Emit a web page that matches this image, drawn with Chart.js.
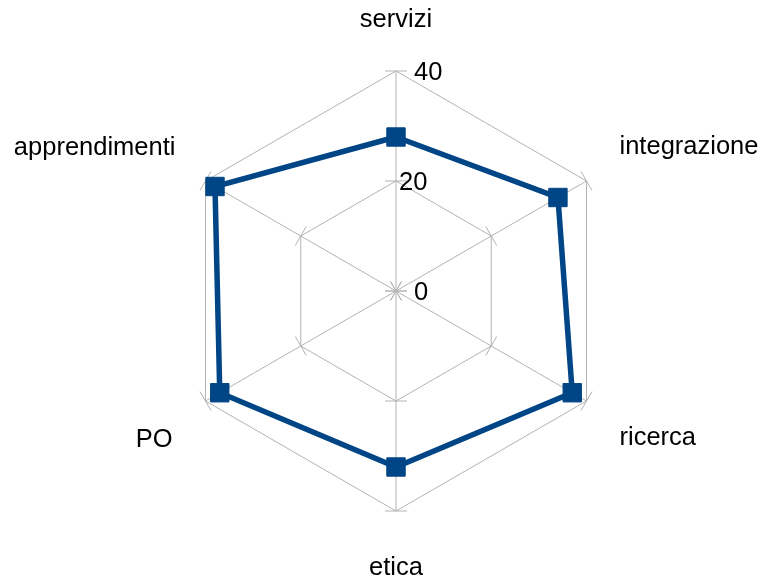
<!DOCTYPE html>
<html>
<head>
<meta charset="utf-8">
<script src="https://cdn.jsdelivr.net/npm/chart.js@4/dist/chart.umd.min.js"></script>
<style>
html,body{margin:0;padding:0;background:#fff;}
canvas{display:block;}
</style>
</head>
<body>
<canvas id="c" width="763" height="584"></canvas>
<script>
const categories = ['servizi', 'integrazione', 'ricerca', 'etica', 'PO', 'apprendimenti'];
const values = [28, 34, 37, 32, 37, 38];
const tickValues = [0, 20, 40];
const tickLabels = ['0', '20', '40'];

const FONT = '25.5px "Liberation Sans", Arial, sans-serif';
const GRID = '#b3b3b3';

const overlay = {
  id: 'overlay',
  beforeDatasetsDraw(chart) {
    const s = chart.scales.r;
    const ctx = chart.ctx;
    ctx.save();
    ctx.strokeStyle = GRID;
    ctx.lineWidth = 1;
    for (let i = 0; i < categories.length; i++) {
      const ang = s.getIndexAngle(i) - Math.PI / 2;
      const px = -Math.sin(ang), py = Math.cos(ang);
      tickValues.forEach(v => {
        const p = s.getPointPositionForValue(i, v);
        ctx.beginPath();
        ctx.moveTo(p.x - px * 11, p.y - py * 11);
        ctx.lineTo(p.x + px * 11, p.y + py * 11);
        ctx.stroke();
      });
    }
    ctx.fillStyle = '#000';
    ctx.font = FONT;
    ctx.textAlign = 'left';
    ctx.textBaseline = 'middle';
    const tickDx = [18, 3, 18];
    tickValues.forEach((v, k) => {
      const p = s.getPointPositionForValue(0, v);
      ctx.fillText(tickLabels[k], p.x + tickDx[k], p.y + 2);
    });
    ctx.textBaseline = 'alphabetic';
    for (let i = 0; i < categories.length; i++) {
      const p = s.getPointPosition(i, s.drawingArea);
      const deg = Math.round(s.getIndexAngle(i) * 180 / Math.PI) % 360;
      let x = p.x, y = p.y;
      if (deg === 0) { ctx.textAlign = 'center'; y -= 44; }
      else if (deg === 180) { ctx.textAlign = 'center'; y += 64; }
      else if (deg < 90) { ctx.textAlign = 'left'; x += 33; y -= 27; }
      else if (deg < 180) { ctx.textAlign = 'left'; x += 33; y += 44; }
      else if (deg < 270) { ctx.textAlign = 'right'; x -= 33; y += 46; }
      else { ctx.textAlign = 'right'; x -= 30; y -= 26; }
      ctx.fillText(categories[i], x, y);
    }
    ctx.restore();
  }
};

new Chart(document.getElementById('c'), {
  type: 'radar',
  data: {
    labels: categories,
    datasets: [{
      data: values,
      borderColor: '#004586',
      backgroundColor: '#004586',
      borderWidth: 5.5,
      fill: false,
      tension: 0,
      pointStyle: 'rect',
      pointRadius: 13,
      pointHoverRadius: 13,
      pointBorderWidth: 1,
      pointBackgroundColor: '#004586',
      pointBorderColor: '#004586'
    }]
  },
  options: {
    responsive: false,
    animation: false,
    events: [],
    plugins: { legend: { display: false }, tooltip: { enabled: false } },
    scales: {
      r: {
        min: 0,
        max: 40,
        beginAtZero: true,
        ticks: { stepSize: 20, display: false },
        pointLabels: { display: false },
        grid: { color: GRID, lineWidth: 1, circular: false },
        angleLines: { color: GRID, lineWidth: 1 },
        afterFit(scale) {
          scale.xCenter = 396;
          scale.yCenter = 291;
          scale.drawingArea = 220;
        }
      }
    }
  },
  plugins: [overlay]
});
</script>
</body>
</html>
